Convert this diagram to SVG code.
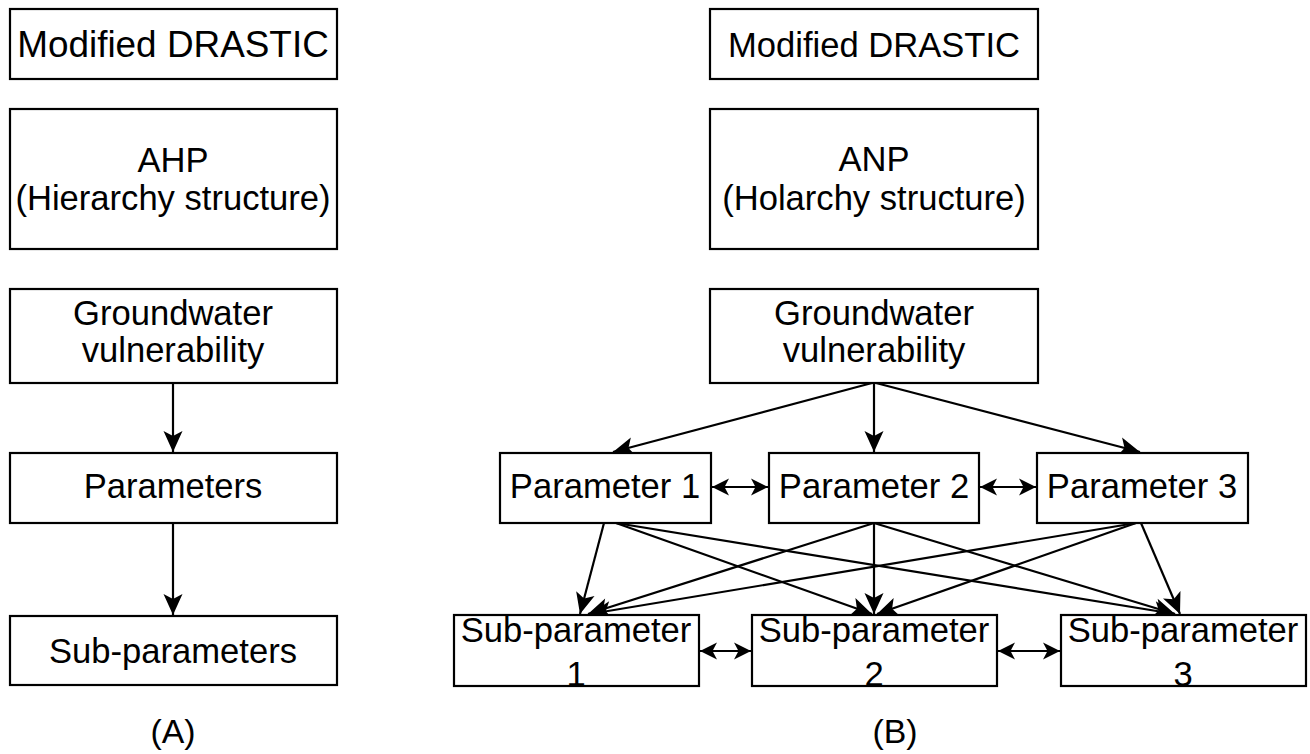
<svg xmlns="http://www.w3.org/2000/svg" width="1310" height="754" viewBox="0 0 1310 754">
<style>
.box{fill:#fff;stroke:#000;stroke-width:2.2}
.t{font-family:"Liberation Sans",Arial,sans-serif;font-size:34.6px;fill:#000;text-anchor:middle}
.c{fill:none;stroke:#000;stroke-width:2.2}
</style>
<defs>
<marker id="ah" markerUnits="userSpaceOnUse" markerWidth="24" markerHeight="22" viewBox="-22 -11 24 22" refX="0" refY="0" orient="auto">
<path d="M0,0 L-21,-9.5 L-16,0 L-21,9.5 Z" fill="#000"/>
</marker>
<marker id="dh" markerUnits="userSpaceOnUse" markerWidth="20" markerHeight="20" viewBox="-18 -10 20 20" refX="0" refY="0" orient="auto-start-reverse">
<path d="M0,0 L-17,-8.5 L-12.5,0 L-17,8.5 Z" fill="#000"/>
</marker>
</defs>
<g id="connectors">
<line class="c" x1="173" y1="383" x2="173" y2="452" marker-end="url(#ah)"/>
<line class="c" x1="173" y1="523" x2="173" y2="615" marker-end="url(#ah)"/>
<line class="c" x1="872" y1="383" x2="613" y2="452" marker-end="url(#ah)"/>
<line class="c" x1="874" y1="383" x2="874" y2="452" marker-end="url(#ah)"/>
<line class="c" x1="876" y1="383" x2="1140" y2="452" marker-end="url(#ah)"/>
<line class="c" x1="604" y1="523" x2="580" y2="614" marker-end="url(#ah)"/>
<line class="c" x1="616" y1="523" x2="872" y2="614" marker-end="url(#ah)"/>
<line class="c" x1="616" y1="523" x2="1175" y2="614" marker-end="url(#ah)"/>
<line class="c" x1="874" y1="523" x2="588" y2="614" marker-end="url(#ah)"/>
<line class="c" x1="874" y1="523" x2="874" y2="614" marker-end="url(#ah)"/>
<line class="c" x1="874" y1="523" x2="1175" y2="614" marker-end="url(#ah)"/>
<line class="c" x1="1136" y1="523" x2="590" y2="614" marker-end="url(#ah)"/>
<line class="c" x1="1136" y1="523" x2="877" y2="614" marker-end="url(#ah)"/>
<line class="c" x1="1141" y1="523" x2="1180" y2="614" marker-end="url(#ah)"/>
<line class="c" x1="712" y1="487" x2="768" y2="487" marker-start="url(#dh)" marker-end="url(#dh)"/>
<line class="c" x1="980" y1="487" x2="1036" y2="487" marker-start="url(#dh)" marker-end="url(#dh)"/>
<line class="c" x1="700" y1="651" x2="751" y2="651" marker-start="url(#dh)" marker-end="url(#dh)"/>
<line class="c" x1="998" y1="651" x2="1060" y2="651" marker-start="url(#dh)" marker-end="url(#dh)"/>
</g>
<g id="a-drastic"><rect class="box" x="10" y="9" width="327" height="70"/><text class="t" x="173" y="57" style="font-size:36.9px">Modified DRASTIC</text></g>
<g id="a-ahp"><rect class="box" x="10" y="109" width="327" height="140"/><text class="t" x="173" y="172">AHP</text><text class="t" x="173" y="210">(Hierarchy structure)</text></g>
<g id="a-gw"><rect class="box" x="10" y="289" width="327" height="94"/><text class="t" x="173" y="325">Groundwater</text><text class="t" x="173" y="362">vulnerability</text></g>
<g id="a-params"><rect class="box" x="10" y="453" width="327" height="70"/><text class="t" x="173" y="498">Parameters</text></g>
<g id="a-sub"><rect class="box" x="10" y="616" width="327" height="69"/><text class="t" x="173" y="663">Sub-parameters</text></g>
<g id="label-a"><text class="t" x="173" y="743" style="font-size:33.8px">(A)</text></g>
<g id="b-drastic"><rect class="box" x="710" y="9" width="328" height="70"/><text class="t" x="874" y="57">Modified DRASTIC</text></g>
<g id="b-anp"><rect class="box" x="710" y="109" width="328" height="140"/><text class="t" x="874" y="171">ANP</text><text class="t" x="874" y="210">(Holarchy structure)</text></g>
<g id="b-gw"><rect class="box" x="710" y="289" width="328" height="94"/><text class="t" x="874" y="325">Groundwater</text><text class="t" x="874" y="362">vulnerability</text></g>
<g id="p1"><rect class="box" x="500" y="453" width="211" height="70"/><text class="t" x="605" y="498">Parameter 1</text></g>
<g id="p2"><rect class="box" x="769" y="453" width="210" height="70"/><text class="t" x="874" y="498">Parameter 2</text></g>
<g id="p3"><rect class="box" x="1037" y="453" width="211" height="70"/><text class="t" x="1142" y="498">Parameter 3</text></g>
<g id="s1"><rect class="box" x="454" y="615" width="245" height="71"/><text class="t" x="576" y="642">Sub-parameter</text><text class="t" x="576" y="686">1</text></g>
<g id="s2"><rect class="box" x="752" y="615" width="245" height="71"/><text class="t" x="874" y="642">Sub-parameter</text><text class="t" x="874" y="686">2</text></g>
<g id="s3"><rect class="box" x="1061" y="615" width="245" height="71"/><text class="t" x="1183" y="642">Sub-parameter</text><text class="t" x="1183" y="686">3</text></g>
<g id="label-b"><text class="t" x="895" y="743" style="font-size:33.8px">(B)</text></g>
</svg>
